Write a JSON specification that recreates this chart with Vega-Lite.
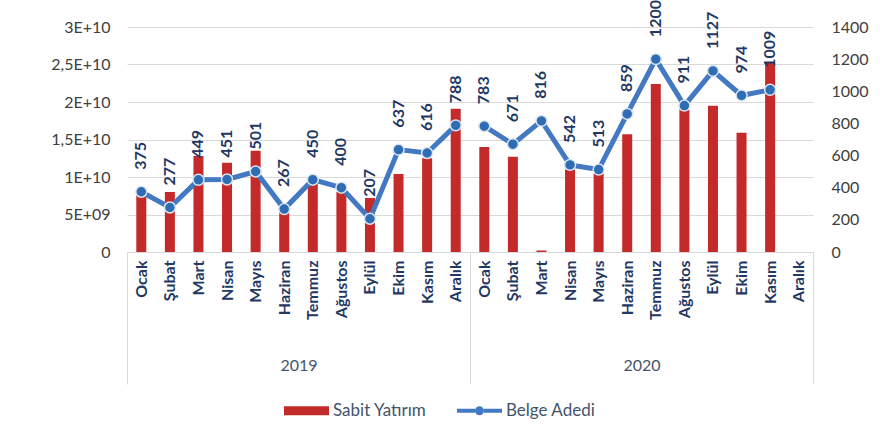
{
  "$schema": "https://vega.github.io/schema/vega-lite/v6.json",
  "background": "white",
  "padding": {"left": 50, "top": 0, "right": 5, "bottom": 5},
  "config": {
    "view": {"stroke": null},
    "font": "Lato",
    "axis": {"labelFont": "Lato", "titleFont": "Lato"},
    "legend": {"labelFont": "Lato"}
  },
  "data": {
    "values": [
      {"year": "2019", "month": "Ocak", "yatirim": 8.1e9, "belge": 375},
      {"year": "2019", "month": "Şubat", "yatirim": 8.0e9, "belge": 277},
      {"year": "2019", "month": "Mart", "yatirim": 1.28e10, "belge": 449},
      {"year": "2019", "month": "Nisan", "yatirim": 1.19e10, "belge": 451},
      {"year": "2019", "month": "Mayıs", "yatirim": 1.35e10, "belge": 501},
      {"year": "2019", "month": "Haziran", "yatirim": 5.5e9, "belge": 267},
      {"year": "2019", "month": "Temmuz", "yatirim": 9.5e9, "belge": 450},
      {"year": "2019", "month": "Ağustos", "yatirim": 8.0e9, "belge": 400},
      {"year": "2019", "month": "Eylül", "yatirim": 7.2e9, "belge": 207},
      {"year": "2019", "month": "Ekim", "yatirim": 1.04e10, "belge": 637},
      {"year": "2019", "month": "Kasım", "yatirim": 1.25e10, "belge": 616},
      {"year": "2019", "month": "Aralık", "yatirim": 1.91e10, "belge": 788},
      {"year": "2020", "month": "Ocak", "yatirim": 1.4e10, "belge": 783},
      {"year": "2020", "month": "Şubat", "yatirim": 1.27e10, "belge": 671},
      {"year": "2020", "month": "Mart", "yatirim": 2.0e8, "belge": 816},
      {"year": "2020", "month": "Nisan", "yatirim": 1.1e10, "belge": 542},
      {"year": "2020", "month": "Mayıs", "yatirim": 1.05e10, "belge": 513},
      {"year": "2020", "month": "Haziran", "yatirim": 1.57e10, "belge": 859},
      {"year": "2020", "month": "Temmuz", "yatirim": 2.24e10, "belge": 1200},
      {"year": "2020", "month": "Ağustos", "yatirim": 1.9e10, "belge": 911},
      {"year": "2020", "month": "Eylül", "yatirim": 1.95e10, "belge": 1127},
      {"year": "2020", "month": "Ekim", "yatirim": 1.59e10, "belge": 974},
      {"year": "2020", "month": "Kasım", "yatirim": 2.53e10, "belge": 1009},
      {"year": "2020", "month": "Aralık", "yatirim": null, "belge": null}
    ]
  },
  "spacing": 0,
  "bounds": "flush",
  "resolve": {"scale": {"color": "shared", "y": "independent"}, "legend": {"color": "shared"}},
  "hconcat": [
    {
      "width": 343,
      "height": 225,
      "transform": [{"filter": "datum.year == '2019'"}],
      "encoding": {
        "x": {
          "field": "month",
          "type": "nominal",
          "sort": null,
          "scale": {"type": "band", "domain": ["Ocak","Şubat","Mart","Nisan","Mayıs","Haziran","Temmuz","Ağustos","Eylül","Ekim","Kasım","Aralık"], "paddingInner": 0, "paddingOuter": 0},
          "axis": {
            "title": "2019", "labelAngle": -90, "labelFontSize": 16, "labelFontWeight": "bold", "labelColor": "#1F3864",
            "labelPadding": -124, "titlePadding": -27, "titleFontSize": 16, "titleFontWeight": "normal", "titleColor": "#44546A",
            "domain": true, "domainColor": "#D9D9D9", "tickBand": "extent", "tickExtra": true, "tickSize": 132,
            "tickColor": {"condition": {"test": "datum.value == 'Aralık' || datum.extra", "value": "#D9D9D9"}, "value": "transparent"}
          }
        }
      },
      "layer": [
        {
          "mark": {"type": "bar", "size": 10},
          "encoding": {
            "y": {"field": "yatirim", "type": "quantitative", "scale": {"domain": [0, 3e10], "nice": false},
              "axis": {"title": null, "values": [0, 5e9, 1e10, 1.5e10, 2e10, 2.5e10, 3e10],
                "labelExpr": "datum.value == 0 ? '0' : datum.value == 5e9 ? '5E+09' : datum.value == 1e10 ? '1E+10' : datum.value == 1.5e10 ? '1,5E+10' : datum.value == 2e10 ? '2E+10' : datum.value == 2.5e10 ? '2,5E+10' : '3E+10'",
                "grid": true, "gridColor": "#D9D9D9", "domain": false, "ticks": false, "labelPadding": 17, "labelFontSize": 16, "labelColor": "#404040"}},
            "color": {"datum": "Sabit Yatırım", "type": "nominal",
              "scale": {"domain": ["Sabit Yatırım", "Belge Adedi"], "range": ["#C42A2A", "#4279C2"]},
              "legend": {
                "orient": "none", "legendX": 157, "legendY": 361, "direction": "horizontal", "title": null,
                "labelFontSize": 17, "labelColor": "#44546A", "symbolSize": 2025, "columnPadding": 30, "labelOffset": 4,
                "encode": {"symbols": {"update": {
                  "shape": {"signal": "datum.value === 'Sabit Yatırım' ? 'M-1,-0.2H1V0.2H-1Z' : 'M-1,-0.09H-0.2V0.09H-1Z M0.2,-0.09H1V0.09H0.2Z M-0.2,0A0.2,0.2 0 1,0 0.2,0A0.2,0.2 0 1,0 -0.2,0Z'"},
                  "fill": {"signal": "datum.value === 'Sabit Yatırım' ? '#C42A2A' : '#4279C2'"},
                  "stroke": {"value": "transparent"},
                  "strokeWidth": {"value": 0}
                }}}
              }}
          }
        },
        {
          "layer": [
            {"mark": {"type": "line", "strokeWidth": 5},
             "encoding": {"color": {"datum": "Belge Adedi", "type": "nominal"}}},
            {"mark": {"type": "point", "filled": true, "size": 120, "fill": "#2E6DB4", "stroke": "#DCE6F2", "strokeWidth": 1.5, "opacity": 1}},
            {"mark": {"type": "text", "angle": 270, "align": "left", "baseline": "middle", "dx": 22, "fontSize": 16, "fontWeight": "bold", "color": "#1F3864"},
             "encoding": {"text": {"field": "belge", "type": "quantitative"}}}
          ],
          "encoding": {
            "y": {"field": "belge", "type": "quantitative", "scale": {"domain": [0, 1400], "nice": false}, "axis": null}
          }
        }
      ],
      "resolve": {"scale": {"y": "independent"}}
    },
    {
      "width": 343,
      "height": 225,
      "transform": [{"filter": "datum.year == '2020'"}],
      "encoding": {
        "x": {
          "field": "month",
          "type": "nominal",
          "sort": null,
          "scale": {"type": "band", "domain": ["Ocak","Şubat","Mart","Nisan","Mayıs","Haziran","Temmuz","Ağustos","Eylül","Ekim","Kasım","Aralık"], "paddingInner": 0, "paddingOuter": 0},
          "axis": {
            "title": "2020", "labelAngle": -90, "labelFontSize": 16, "labelFontWeight": "bold", "labelColor": "#1F3864",
            "labelPadding": -124, "titlePadding": -27, "titleFontSize": 16, "titleFontWeight": "normal", "titleColor": "#44546A",
            "domain": true, "domainColor": "#D9D9D9", "tickBand": "extent", "tickSize": 132,
            "tickColor": {"condition": {"test": "datum.value == 'Aralık'", "value": "#D9D9D9"}, "value": "transparent"}
          }
        }
      },
      "layer": [
        {
          "mark": {"type": "bar", "size": 10},
          "encoding": {
            "y": {"field": "yatirim", "type": "quantitative", "scale": {"domain": [0, 3e10], "nice": false},
              "axis": {"title": null, "values": [0, 5e9, 1e10, 1.5e10, 2e10, 2.5e10, 3e10], "labels": false,
                "grid": true, "gridColor": "#D9D9D9", "domain": false, "ticks": false}},
            "color": {"datum": "Sabit Yatırım", "type": "nominal"}
          }
        },
        {
          "layer": [
            {"mark": {"type": "line", "strokeWidth": 5},
             "encoding": {"color": {"datum": "Belge Adedi", "type": "nominal"}}},
            {"mark": {"type": "point", "filled": true, "size": 120, "fill": "#2E6DB4", "stroke": "#DCE6F2", "strokeWidth": 1.5, "opacity": 1}},
            {"mark": {"type": "text", "angle": 270, "align": "left", "baseline": "middle", "dx": 22, "fontSize": 16, "fontWeight": "bold", "color": "#1F3864"},
             "encoding": {"text": {"field": "belge", "type": "quantitative"}}}
          ],
          "encoding": {
            "y": {"field": "belge", "type": "quantitative", "scale": {"domain": [0, 1400], "nice": false},
              "axis": {"orient": "right", "title": null, "values": [0, 200, 400, 600, 800, 1000, 1200, 1400], "format": "d",
                "grid": false, "domain": false, "ticks": false, "labelPadding": 18, "labelFontSize": 16, "labelColor": "#404040"}}
          }
        }
      ],
      "resolve": {"scale": {"y": "independent"}}
    }
  ]
}
